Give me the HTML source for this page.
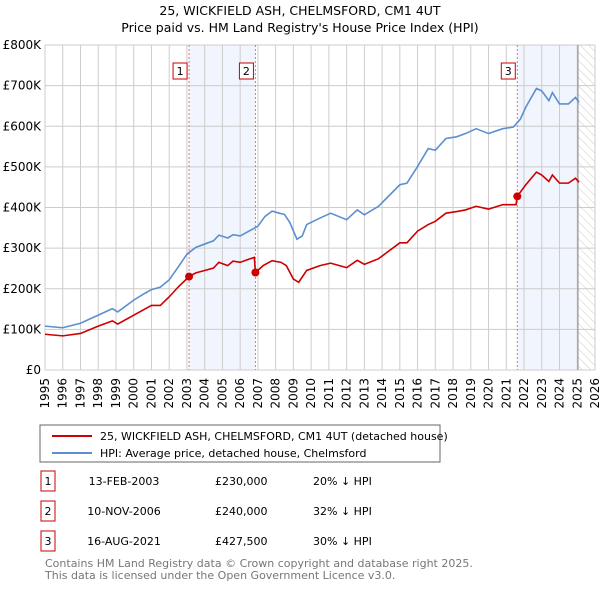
<!DOCTYPE html>
<html><head><meta charset="utf-8"><style>
body{margin:0;background:#fff;font-family:"Liberation Sans","DejaVu Sans",sans-serif}
svg text{font-family:"DejaVu Sans","Liberation Sans",sans-serif}
</style></head><body>
<svg id="c" width="600" height="590" xmlns="http://www.w3.org/2000/svg">
<defs><pattern id="hatch" width="6" height="6" patternUnits="userSpaceOnUse" patternTransform="rotate(-45)"><line x1="0" y1="0" x2="0" y2="6" stroke="#ccc" stroke-width="1"/></pattern></defs>
<text x="300" y="15" text-anchor="middle" font-size="12.5">25, WICKFIELD ASH, CHELMSFORD, CM1 4UT</text>
<text x="300" y="32" text-anchor="middle" font-size="12.5">Price paid vs. HM Land Registry's House Price Index (HPI)</text>
<g id="plot"></g>
<rect x="40" y="425" width="400" height="37" fill="#fff" stroke="#666"/>
<line x1="52" y1="436" x2="92" y2="436" stroke="#cc0000" stroke-width="2"/>
<text x="100" y="440" font-size="11">25, WICKFIELD ASH, CHELMSFORD, CM1 4UT (detached house)</text>
<line x1="52" y1="453" x2="92" y2="453" stroke="#5b8fd0" stroke-width="2"/>
<text x="100" y="457" font-size="11">HPI: Average price, detached house, Chelmsford</text>
<g id="tbl" font-size="11"></g>
<text x="45" y="567" font-size="11" fill="#777">Contains HM Land Registry data © Crown copyright and database right 2025.</text>
<text x="45" y="579" font-size="11" fill="#777">This data is licensed under the Open Government Licence v3.0.</text>
</svg>
<script>
const hpiYears=[1995,1996,1997,1998,1998.8,1999.1,2000,2000.6,2001,2001.5,2002,2002.5,2003,2003.5,2004,2004.5,2004.8,2005.3,2005.6,2006,2006.5,2007,2007.4,2007.8,2008.2,2008.5,2008.8,2009.2,2009.5,2009.75,2010.5,2011.1,2012,2012.6,2013,2013.8,2015,2015.4,2016,2016.6,2017,2017.6,2018.2,2018.7,2019.3,2020,2020.8,2021.4,2021.8,2022.1,2022.7,2023,2023.4,2023.6,2024,2024.5,2024.9,2025.1];
const hpiValues=[108,104,115,135,151,143,172,188,198,204,222,253,285,302,310,318,332,325,333,330,342,354,378,391,386,383,363,322,330,358,374,386,370,394,382,403,456,460,501,545,541,570,574,582,594,582,594,598,618,647,693,687,663,683,655,655,671,659];
const propYears=[1995,1996,1997,1998,1998.8,1999.1,2000,2001,2001.5,2002,2002.5,2003.12,2003.5,2004,2004.5,2004.8,2005.3,2005.6,2006,2006.5,2006.8,2006.86,2007.3,2007.8,2008.3,2008.6,2009,2009.3,2009.75,2010.5,2011.1,2012,2012.6,2013,2013.8,2015,2015.4,2016,2016.6,2017,2017.6,2018.2,2018.7,2019.3,2020,2020.8,2021.55,2021.62,2022.1,2022.7,2023,2023.4,2023.6,2024,2024.5,2024.9,2025.1];
const propValues=[88,84,90,108,121,113,135,159,159,180,204,230,239,245,251,265,257,268,265,273,277,240,257,269,265,257,224,216,245,257,263,252,270,260,274,313,313,342,358,366,386,390,394,403,396,407,407,427.5,456,487,480,464,480,460,460,472,462];
const saleYears=[2003.12,2006.86,2021.62];
const saleValues=[230,240,427.5];
const saleLabels=["1","2","3"];
const saleDates=["13-FEB-2003","10-NOV-2006","16-AUG-2021"];
const salePrices=["£230,000","£240,000","£427,500"];
const saleDiffs=["20% ↓ HPI","32% ↓ HPI","30% ↓ HPI"];
const yTicks=[0,100,200,300,400,500,600,700,800];
const yTickLabels=["£0","£100K","£200K","£300K","£400K","£500K","£600K","£700K","£800K"];
const xTicks=[1995,1996,1997,1998,1999,2000,2001,2002,2003,2004,2005,2006,2007,2008,2009,2010,2011,2012,2013,2014,2015,2016,2017,2018,2019,2020,2021,2022,2023,2024,2025,2026];
const dataEnd=2025.04;

const X0=45,X1=595,Y0=370,Y1=45;
const xs=y=>X0+(y-1995)/(2026-1995)*(X1-X0);
const ys=v=>Y0-v/800*(Y0-Y1);
const NS="http://www.w3.org/2000/svg";
const plot=document.getElementById('plot');
function mk(tag,attrs,parent){const e=document.createElementNS(NS,tag);for(const k in attrs)e.setAttribute(k,attrs[k]);(parent||plot).appendChild(e);return e;}

let r=mk('rect',{x:xs(saleYears[0]),y:Y1,width:xs(saleYears[1])-xs(saleYears[0]),height:Y0-Y1,fill:'#f1f5fd'});


r=mk('rect',{x:xs(saleYears[2]),y:Y1,width:xs(dataEnd)-xs(saleYears[2]),height:Y0-Y1,fill:'#f1f5fd'});


r=mk('rect',{x:xs(dataEnd),y:Y1,width:X1-xs(dataEnd),height:Y0-Y1,fill:'url(#hatch)'});



xTicks.forEach(t=>{
  const l=mk('line',{x1:xs(t),x2:xs(t),y1:Y1,y2:Y0,stroke:'#ccc'});
  
  
  const tx=mk('text',{x:0,y:0,'font-size':12,'text-anchor':'end',transform:`translate(${xs(t)+4},${Y0+8}) rotate(-90)`});
  tx.textContent=t;
  
  
});
yTicks.forEach((t,i)=>{
  const l=mk('line',{x1:X0,x2:X1,y1:ys(t),y2:ys(t),stroke:'#ccc'});
  
  
  const tx=mk('text',{x:X0-4,y:ys(t)+4,'font-size':12,'text-anchor':'end'});
  tx.textContent=yTickLabels[i];
  
  
});
let el=mk('line',{x1:xs(dataEnd),x2:xs(dataEnd),y1:Y1,y2:Y0,stroke:'#888','stroke-width':1});



saleYears.forEach((s,i)=>{
  const l=mk('line',{x1:xs(s),x2:xs(s),y1:Y1,y2:Y0,stroke:'#f07070','stroke-dasharray':'2,2'});
  
  
});

let p=mk('polyline',{points:hpiYears.map((y,i)=>xs(y)+','+ys(hpiValues[i])).join(' '),fill:'none',stroke:'#5b8fd0','stroke-width':1.6});


p=mk('polyline',{points:propYears.map((y,i)=>xs(y)+','+ys(propValues[i])).join(' '),fill:'none',stroke:'#cc0000','stroke-width':1.6});



saleYears.forEach((s,i)=>{
  const c=mk('circle',{cx:xs(s),cy:ys(saleValues[i]),r:4,fill:'#cc0000'});
  
  
  const g=mk('g',{});
  
  
  mk('rect',{x:xs(s)-16,y:63,width:14,height:16,fill:'#fff',stroke:'#cc0000'},g);
  const t=mk('text',{x:xs(s)-9,y:75,'font-size':11,'text-anchor':'middle'},g);
  t.textContent=saleLabels[i];
});

const tbl=document.getElementById('tbl');
const rowY=[481,511,541];
saleLabels.forEach((lab,i)=>{
  const g=mk('g',{},tbl);
  
  
  mk('rect',{x:41,y:rowY[i]-10,width:14,height:20,fill:'#fff',stroke:'#cc0000'},g);
  let t=mk('text',{x:48,y:rowY[i]+4,'text-anchor':'middle'},g);t.textContent=lab;
  t=mk('text',{x:124,y:rowY[i]+4,'text-anchor':'middle'},g);t.textContent=saleDates[i];
  t=mk('text',{x:215,y:rowY[i]+4},g);t.textContent=salePrices[i];
  t=mk('text',{x:313,y:rowY[i]+4},g);t.textContent=saleDiffs[i];
});
</script>
</body></html>
